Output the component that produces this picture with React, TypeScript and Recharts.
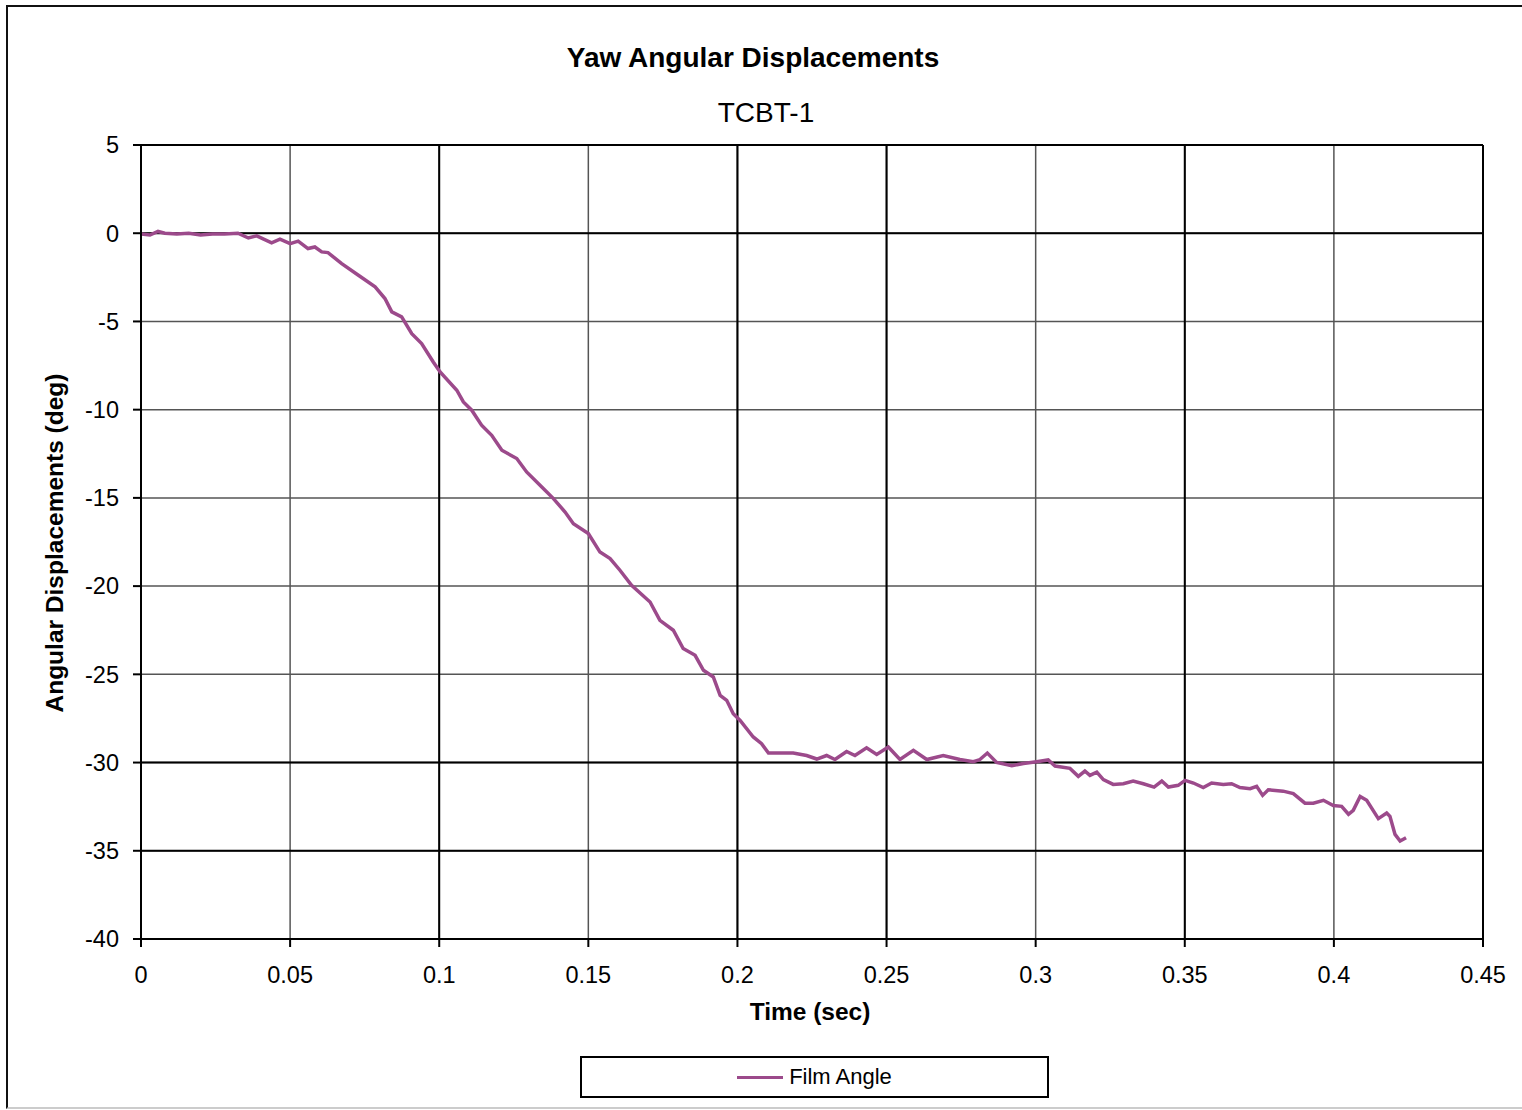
import React from "react";
import {
  LineChart,
  Line,
  XAxis,
  YAxis,
  CartesianGrid,
  ReferenceLine,
} from "recharts";

const chartTitle = "Yaw Angular Displacements";
const chartSubtitle = "TCBT-1";
const xAxisTitle = "Time (sec)";
const yAxisTitle = "Angular Displacements (deg)";
const seriesName = "Film Angle";

const xTicks = [0, 0.05, 0.1, 0.15, 0.2, 0.25, 0.3, 0.35, 0.4, 0.45];
const yTicks = [5, 0, -5, -10, -15, -20, -25, -30, -35, -40];
const darkXLines = [0.1, 0.2, 0.25, 0.35];
const darkYLines = [0, -30, -35];

const timeSec = [
  0, 0.003, 0.0057, 0.008, 0.012, 0.016, 0.02, 0.024, 0.028, 0.0325, 0.036,
  0.0388, 0.0438, 0.0466, 0.05, 0.0527, 0.056, 0.0583, 0.0606, 0.0627, 0.0673,
  0.0729, 0.0785, 0.0818, 0.0841, 0.0874, 0.0908, 0.0941, 0.098, 0.1003,
  0.1059, 0.1081, 0.1109, 0.1142, 0.1176, 0.121, 0.126, 0.1293, 0.1349,
  0.1383, 0.1422, 0.145, 0.15, 0.1539, 0.1573, 0.1606, 0.1645, 0.1707, 0.174,
  0.1785, 0.1818, 0.1858, 0.1886, 0.1919, 0.1942, 0.1964, 0.1986, 0.2009,
  0.2053, 0.2081, 0.2104, 0.2154, 0.2187, 0.2232, 0.2266, 0.2299, 0.2327,
  0.2366, 0.2394, 0.2433, 0.2467, 0.2506, 0.2545, 0.259, 0.2635, 0.269,
  0.2746, 0.2791, 0.2813, 0.2838, 0.2869, 0.292, 0.2959, 0.3003, 0.3042,
  0.3065, 0.3115, 0.3143, 0.3165, 0.3182, 0.3205, 0.3227, 0.326, 0.3294,
  0.3327, 0.3361, 0.3397, 0.3423, 0.3445, 0.3478, 0.3501, 0.3529, 0.3562,
  0.359, 0.3629, 0.3657, 0.3685, 0.3719, 0.3741, 0.3761, 0.378, 0.383,
  0.3864, 0.3903, 0.3931, 0.3965, 0.3998, 0.4026, 0.4049, 0.4065, 0.4088,
  0.411, 0.4149, 0.4177, 0.4188, 0.4205, 0.4222, 0.4242,
];

const filmAngle = [
  -0.05, -0.1, 0.1, 0.0, -0.05, 0.0, -0.1, -0.05, -0.05, 0.0, -0.27, -0.15,
  -0.55, -0.34, -0.59, -0.45, -0.87, -0.78, -1.06, -1.1, -1.72, -2.38, -3.04,
  -3.7, -4.46, -4.74, -5.69, -6.25, -7.3, -7.86, -8.9, -9.56, -10.03, -10.88,
  -11.45, -12.3, -12.77, -13.53, -14.47, -15.04, -15.8, -16.46, -17.02,
  -18.07, -18.44, -19.1, -19.95, -20.9, -21.94, -22.5, -23.54, -23.92, -24.77,
  -25.15, -26.19, -26.47, -27.23, -27.61, -28.55, -28.93, -29.46, -29.46,
  -29.46, -29.6, -29.8, -29.6, -29.83, -29.37, -29.6, -29.16, -29.54, -29.12,
  -29.83, -29.31, -29.83, -29.6, -29.83, -29.95, -29.83, -29.46, -29.99,
  -30.18, -30.05, -29.95, -29.85, -30.2, -30.33, -30.78, -30.48, -30.73,
  -30.54, -30.97, -31.24, -31.2, -31.05, -31.2, -31.39, -31.05, -31.39,
  -31.29, -31.01, -31.16, -31.42, -31.16, -31.24, -31.2, -31.42, -31.48,
  -31.35, -31.86, -31.54, -31.62, -31.76, -32.3, -32.3, -32.14, -32.43,
  -32.48, -32.93, -32.71, -31.92, -32.14, -33.18, -32.86, -33.05, -34.07,
  -34.45, -34.26,
];

const data = timeSec.map((t, i) => ({ t, angle: filmAngle[i] }));

const FONT = "'Liberation Sans', Arial, Helvetica, sans-serif";
const LINE_COLOR = "#9c4a8b";

export default function App() {
  return (
    <div
      style={{
        position: "fixed",
        left: 0,
        top: 0,
        width: 1522,
        height: 1110,
        overflow: "hidden",
        background: "#fff",
        fontFamily: FONT,
      }}
    >
      <div
        style={{
          position: "absolute",
          left: 6,
          top: 5,
          width: 1540,
          height: 1104,
          borderTop: "2px solid #111",
          borderLeft: "2px solid #111",
          borderBottom: "2px solid #ccc",
          boxSizing: "border-box",
        }}
      />
      <div
        style={{
          position: "absolute",
          left: 453,
          width: 600,
          top: 42,
          textAlign: "center",
          fontSize: 28,
          fontWeight: "bold",
          color: "#000",
        }}
      >
        {chartTitle}
      </div>
      <div
        style={{
          position: "absolute",
          left: 466,
          width: 600,
          top: 97,
          textAlign: "center",
          fontSize: 28,
          color: "#000",
        }}
      >
        {chartSubtitle}
      </div>
      <div
        style={{
          position: "absolute",
          left: 610,
          width: 400,
          top: 998,
          textAlign: "center",
          fontSize: 24.5,
          fontWeight: "bold",
          color: "#000",
        }}
      >
        {xAxisTitle}
      </div>
      <div
        style={{
          position: "absolute",
          left: 55 - 200,
          top: 543 - 15,
          width: 400,
          height: 30,
          lineHeight: "30px",
          textAlign: "center",
          fontSize: 24.5,
          fontWeight: "bold",
          color: "#000",
          transform: "rotate(-90deg)",
        }}
      >
        {yAxisTitle}
      </div>
      <div style={{ position: "absolute", left: 0, top: 0 }}>
        <LineChart
          width={1522}
          height={1110}
          data={data}
          margin={{ top: 145, right: 39, bottom: 141, left: 81 }}
        >
          <CartesianGrid stroke="#555" strokeWidth={1.5} />
          {darkXLines.map((x) => (
            <ReferenceLine key={"vx" + x} x={x} stroke="#000" strokeWidth={2} />
          ))}
          {darkYLines.map((y) => (
            <ReferenceLine key={"hy" + y} y={y} stroke="#000" strokeWidth={2} />
          ))}
          <ReferenceLine y={5} stroke="#000" strokeWidth={2} />
          <ReferenceLine x={0.45} stroke="#000" strokeWidth={2} />
          <XAxis
            dataKey="t"
            type="number"
            domain={[0, 0.45]}
            ticks={xTicks}
            interval={0}
            allowDataOverflow
            height={30}
            stroke="#000"
            strokeWidth={2}
            tickSize={8}
            tickMargin={19}
            tick={{ fill: "#000", fontSize: 23.5, fontFamily: FONT }}
          />
          <YAxis
            type="number"
            domain={[-40, 5]}
            ticks={yTicks}
            interval={0}
            allowDataOverflow
            width={60}
            stroke="#000"
            strokeWidth={2}
            tickSize={8}
            tickMargin={14}
            tick={{ fill: "#000", fontSize: 23.5, fontFamily: FONT }}
          />
          <Line
            type="linear"
            dataKey="angle"
            name={seriesName}
            stroke={LINE_COLOR}
            strokeWidth={3.5}
            dot={false}
            isAnimationActive={false}
          />
        </LineChart>
      </div>
      <div
        style={{
          position: "absolute",
          left: 580,
          top: 1056,
          width: 469,
          height: 42,
          border: "2px solid #000",
          boxSizing: "border-box",
          display: "flex",
          alignItems: "center",
          justifyContent: "center",
          fontSize: 22,
          color: "#000",
          background: "#fff",
        }}
      >
        <span
          style={{
            display: "inline-block",
            width: 46,
            height: 3,
            background: LINE_COLOR,
            marginRight: 6,
          }}
        />
        <span>{seriesName}</span>
      </div>
    </div>
  );
}
